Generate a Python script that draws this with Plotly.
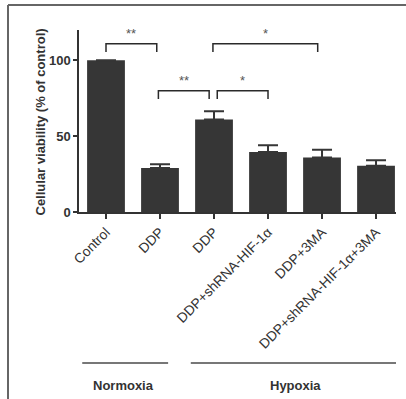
import plotly.graph_objects as go

categories = ["Control", "DDP", "DDP", "DDP+shRNA-HIF-1α", "DDP+3MA", "DDP+shRNA-HIF-1α+3MA"]
values = [100, 29, 61, 39.5, 36, 30.5]
errors = [None, 2.5, 5.5, 4.5, 5, 3.7]
ytick_vals = [0, 50, 100]

# significance brackets: start, end, top y, label
brk_start = [0.0, 0.97, 2.06, 1.98]
brk_end = [0.94, 1.91, 3.0, 3.92]
brk_top = [111, 80, 80, 111]
brk_label = ["**", "**", "*", "*"]

groups = ["Normoxia", "Hypoxia"]
group_start = [-0.44, 1.57]
group_end = [1.15, 5.54]
group_center = [0.32, 3.5]

W, H = 406, 399
L, R, T, B = 79, 10, 30, 187
pw, ph = W - L - R, H - T - B

def px_to_paper_x(px):
    return (px - L) / pw

def py_to_paper_y(py):
    return (H - B - py) / ph

dark = "#363636"
xs = list(range(len(categories)))

fig = go.Figure()
fig.add_trace(go.Bar(
    x=xs, y=values, width=0.7,
    marker=dict(color=dark, line=dict(width=0)),
    error_y=dict(type="data", symmetric=False, array=errors,
                 arrayminus=[0] * len(errors), color=dark, thickness=2, width=10),
))

shapes = []
annotations = []
leg = 5.5
for s, e, t, lab in zip(brk_start, brk_end, brk_top, brk_label):
    shapes.append(dict(type="path", xref="x", yref="y",
                       path=f"M {s} {t - leg} L {s} {t} L {e} {t} L {e} {t - leg}",
                       line=dict(color="#2a2a2a", width=1.5)))
    annotations.append(dict(x=(s + e) / 2, y=t + 7, xref="x", yref="y", text=lab,
                            showarrow=False, font=dict(size=13, color="#555555",
                                                       family="Liberation Sans")))

line_y = py_to_paper_y(363)
text_y = py_to_paper_y(385)
for g, s, e, c in zip(groups, group_start, group_end, group_center):
    shapes.append(dict(type="line", xref="x", yref="paper", x0=s, x1=e, y0=line_y, y1=line_y,
                       line=dict(color="#4a4a4a", width=1.5)))
    annotations.append(dict(x=c, y=text_y, xref="x", yref="paper", text=f"<b>{g}</b>",
                            showarrow=False, yanchor="middle",
                            font=dict(size=13, color="#333333", family="Liberation Sans")))

# outer frame (left and top edges)
fx = px_to_paper_x(8)
fy_top = py_to_paper_y(5)
fy_bot = py_to_paper_y(400)
shapes.append(dict(type="line", xref="paper", yref="paper", x0=fx, x1=px_to_paper_x(407),
                   y0=fy_top, y1=fy_top, line=dict(color="#666666", width=2)))
shapes.append(dict(type="line", xref="paper", yref="paper", x0=fx, x1=fx,
                   y0=fy_top, y1=fy_bot, line=dict(color="#666666", width=2)))

# y-axis title
annotations.append(dict(x=px_to_paper_x(30), y=py_to_paper_y(122), xref="paper", yref="paper",
                        text="<b>Cellular viability (% of control)</b>", textangle=-90,
                        showarrow=False, font=dict(size=13, color="#333333",
                                                   family="Liberation Sans")))

fig.update_layout(
    width=W, height=H,
    margin=dict(l=L, r=R, t=T, b=B, autoexpand=False),
    paper_bgcolor="white", plot_bgcolor="white",
    showlegend=False,
    bargap=0.3,
    shapes=shapes,
    annotations=annotations,
    font=dict(family="Liberation Sans", color="#333333"),
)
fig.update_xaxes(
    range=[-0.5, 5.37], tickmode="array", tickvals=xs, ticktext=categories,
    tickangle=-45, ticks="outside", ticklen=5, tickwidth=1.5, tickcolor="#333333",
    showline=True, linecolor="#333333", linewidth=1.5, showgrid=False, zeroline=False,
    tickfont=dict(size=13.8, color="#333333", family="Liberation Sans"), automargin=False,
)
fig.update_yaxes(
    range=[0, 120], tickmode="array", tickvals=ytick_vals,
    ticktext=[f"<b>{v}</b>" for v in ytick_vals],
    ticks="outside", ticklen=4, tickwidth=1.5, tickcolor="#333333",
    showline=True, linecolor="#333333", linewidth=1.5, showgrid=False, zeroline=False,
    tickfont=dict(size=13, color="#333333", family="Liberation Sans"), automargin=False,
)

fig.write_html("out.html", config={"displayModeBar": False},
               post_script="document.body.style.margin='0';document.body.style.overflow='hidden';")
